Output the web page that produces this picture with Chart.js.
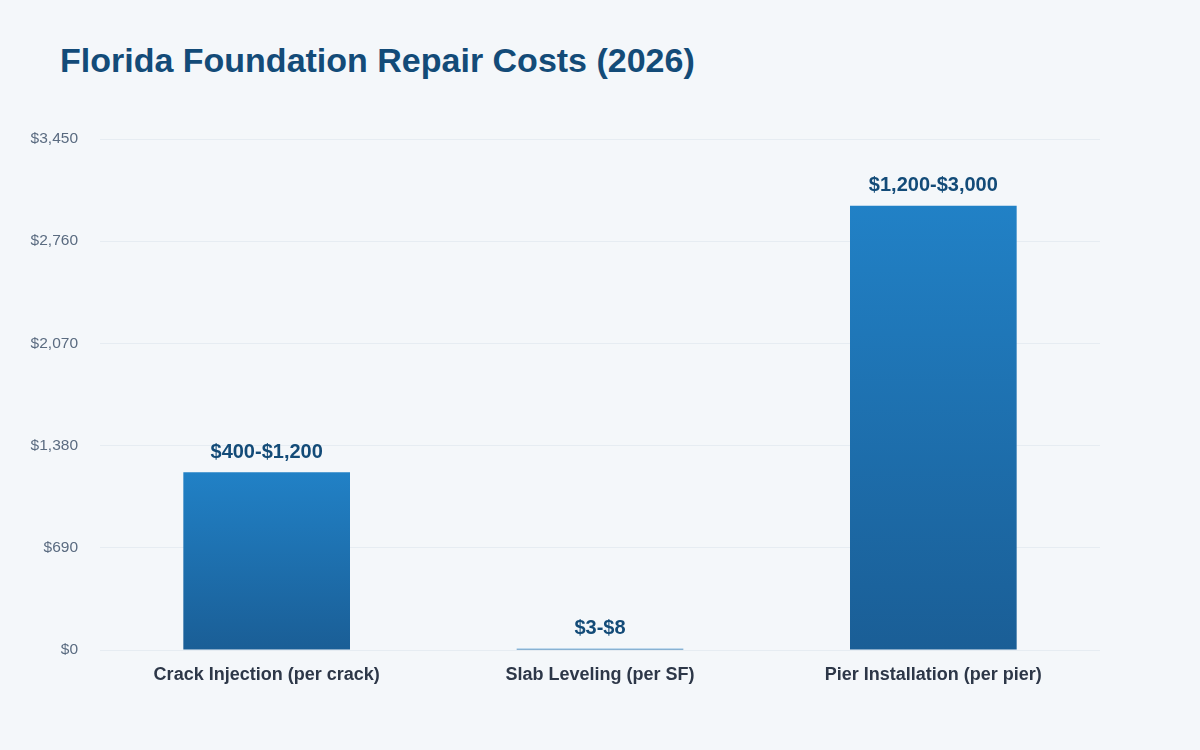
<!DOCTYPE html>
<html>
<head>
<meta charset="utf-8">
<script src="https://cdn.jsdelivr.net/npm/chart.js@4"></script>
<style>
  html, body { margin: 0; padding: 0; background: #f4f7fa; }
  #wrap { position: relative; width: 1200px; height: 750px; }
  #title {
    position: absolute; left: 60px; top: 37px; margin: 0;
    font-family: "Liberation Sans", Arial, sans-serif; font-weight: bold;
    font-size: 34px; color: #134b78; line-height: 46px;
  }
  canvas { position: absolute; left: 0; top: 0; }
</style>
</head>
<body>
<div id="wrap">
  <h1 id="title">Florida Foundation Repair Costs (2026)</h1>
  <canvas id="myChart" width="1200" height="750"></canvas>
</div>
<script>
const categories = ['Crack Injection (per crack)', 'Slab Leveling (per SF)', 'Pier Installation (per pier)'];
const lowValues = [400, 3, 1200];
const highValues = [1200, 8, 3000];
const yMax = 3450;
const yStep = 690;

const fmt = v => '$' + v.toLocaleString('en-US');

// range text above each bar
const valueLabels = {
    id: 'valueLabels',
    afterDatasetsDraw(chart) {
        const ctx = chart.ctx;
        const meta = chart.getDatasetMeta(0);
        ctx.save();
        ctx.font = 'bold 20px "Liberation Sans", Arial, sans-serif';
        ctx.fillStyle = '#134b78';
        ctx.textAlign = 'center';
        ctx.textBaseline = 'middle';
        meta.data.forEach((bar, i) => {
            ctx.fillText(fmt(lowValues[i]) + '-' + fmt(highValues[i]), bar.x, bar.y - 20);
        });
        ctx.restore();
    }
};

const ctx = document.getElementById('myChart').getContext('2d');
new Chart(ctx, {
    type: 'bar',
    data: {
        labels: categories,
        datasets: [{
            data: highValues,
            backgroundColor: function (c) {
                const chart = c.chart;
                const area = chart.chartArea;
                if (!area) return '#1d6fae';
                const top = chart.scales.y.getPixelForValue(c.raw);
                const g = chart.ctx.createLinearGradient(0, top, 0, area.bottom);
                g.addColorStop(0, '#2181c6');
                g.addColorStop(1, '#1a5e96');
                return g;
            },
            borderWidth: 0,
            categoryPercentage: 0.5,
            barPercentage: 1
        }]
    },
    options: {
        responsive: false,
        animation: false,
        layout: { padding: { top: 139, left: 0, right: 100, bottom: 0 } },
        scales: {
            y: {
                min: 0,
                max: yMax,
                border: { display: false },
                grid: { color: '#e6ecf2', drawTicks: false, lineWidth: 1 },
                ticks: {
                    stepSize: yStep,
                    padding: 22,
                    color: '#5a6b80',
                    font: { family: '"Liberation Sans", Arial, sans-serif', size: 15.5 },
                    callback: v => fmt(v)
                },
                afterFit(scale) { scale.width = 100; }
            },
            x: {
                border: { display: false },
                grid: { display: false, drawTicks: false },
                ticks: {
                    padding: 14,
                    color: '#2d3748',
                    font: { family: '"Liberation Sans", Arial, sans-serif', size: 18, weight: 'bold' }
                },
                afterFit(scale) { scale.height = 100; }
            }
        },
        plugins: {
            legend: { display: false },
            tooltip: { enabled: false }
        }
    },
    plugins: [valueLabels]
});
</script>
</body>
</html>
